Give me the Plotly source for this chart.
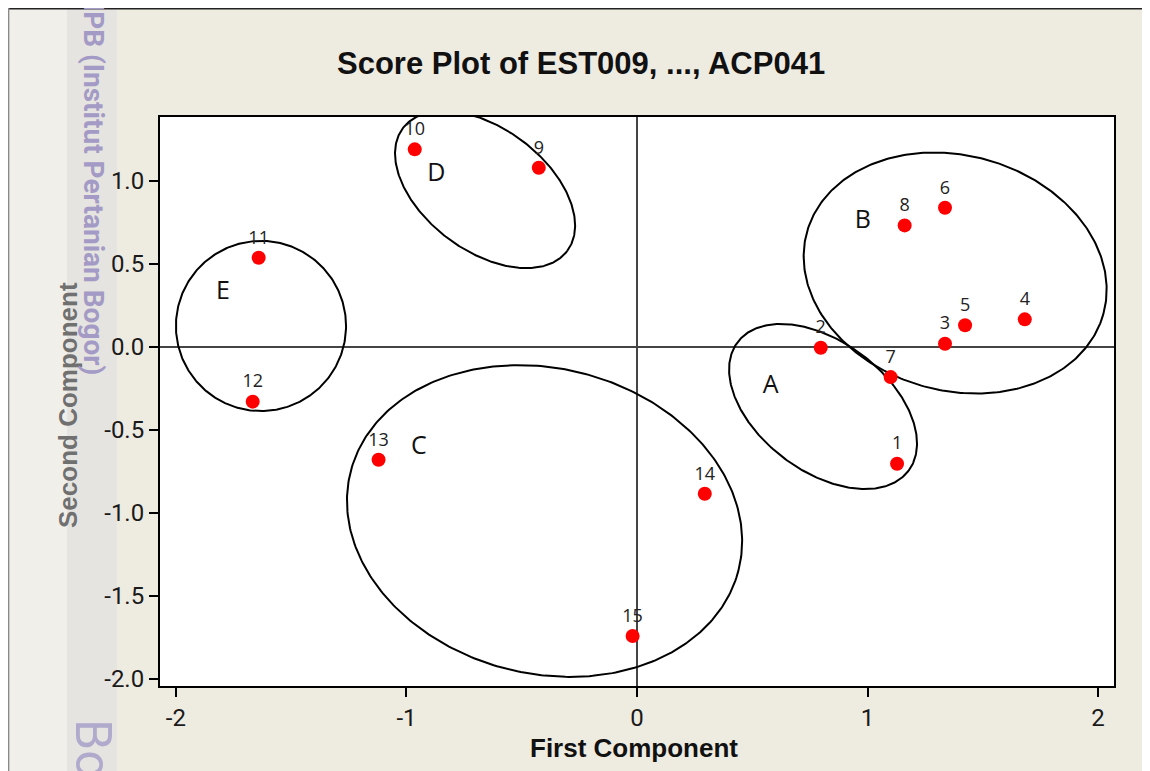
import numpy as np
import plotly.graph_objects as go

# ---- data ----
obs_labels = ["1", "2", "3", "4", "5", "6", "7", "8", "9", "10", "11", "12", "13", "14", "15"]
first_comp = [1.128, 0.797, 1.336, 1.682, 1.423, 1.336, 1.100, 1.161, -0.426, -0.964,
              -1.641, -1.667, -1.121, 0.294, -0.019]
second_comp = [-0.703, -0.004, 0.020, 0.167, 0.131, 0.839, -0.181, 0.733, 1.080, 1.191,
               0.538, -0.329, -0.679, -0.884, -1.741]

group_names = ["A", "B", "C", "D", "E"]
group_label_x = [0.580, 0.980, -0.946, -0.870, -1.796]
group_label_y = [-0.241, 0.755, -0.607, 1.040, 0.327]
# ellipse: centre (x, y), semi-axes (in x-units on screen), rotation (deg, ccw on screen)
ell_cx = [0.807, 1.380, -0.401, -0.659, -1.631]
ell_cy = [-0.358, 0.446, -1.048, 0.949, 0.127]
ell_a = [0.464, 0.667, 0.868, 0.445, 0.369]
ell_b = [0.281, 0.510, 0.662, 0.266, 0.369]
ell_rot = [-36.9, -15.4, -14.2, -36.7, 0.0]

x_ticks = [-2, -1, 0, 1, 2]
x_ticktext = ["-2", "-1", "0", "1", "2"]
y_ticks = [-2.0, -1.5, -1.0, -0.5, 0.0, 0.5, 1.0]
y_ticktext = ["-2.0", "-1.5", "-1.0", "-0.5", "0.0", "0.5", "1.0"]
x_range = [-2.069, 2.069]
y_range = [-2.042, 1.386]

W, H = 1142, 763
OFF = 8  # page body margin
ML, MT = 160 - OFF, 117 - OFF
PW, PH = 954, 569
MR, MB = W - ML - PW, H - MT - PH
SX = PW / (x_range[1] - x_range[0])
SY = PH / (y_range[1] - y_range[0])

BG = "#EEEBE1"

fig = go.Figure()

# ellipses
t = np.linspace(0, 2 * np.pi, 361)
for cx, cy, a, b, r in zip(ell_cx, ell_cy, ell_a, ell_b, ell_rot):
    phi = np.deg2rad(r)
    u, v = a * np.cos(t), b * np.sin(t)
    dx = u * np.cos(phi) - v * np.sin(phi)
    dy = u * np.sin(phi) + v * np.cos(phi)
    fig.add_trace(go.Scatter(x=cx + dx, y=cy + dy * SX / SY, mode="lines",
                             line=dict(color="black", width=2),
                             hoverinfo="skip", showlegend=False))

# points
fig.add_trace(go.Scatter(x=first_comp, y=second_comp, mode="markers+text",
                         text=obs_labels, textposition="top center",
                         textfont=dict(family="Open Sans", size=18, color="#222"),
                         marker=dict(color="#FF0000", size=14),
                         cliponaxis=False, showlegend=False))

# group letters
fig.add_trace(go.Scatter(x=group_label_x, y=group_label_y, mode="text",
                         text=group_names, textposition="middle center",
                         textfont=dict(family="Open Sans", size=25, color="#111"),
                         showlegend=False, hoverinfo="skip"))


def px(xs):
    """screen x pixel -> paper fraction"""
    return (xs - OFF - ML) / PW


def py(ys):
    """screen y pixel -> paper fraction"""
    return (H - MB - (ys - OFF)) / PH


shapes = [
    dict(type="rect", xref="paper", yref="paper", x0=px(6), x1=px(67), y0=py(790), y1=py(6),
         fillcolor="#F1EFEA", line=dict(width=0), layer="below"),
    dict(type="rect", xref="paper", yref="paper", x0=px(67), x1=px(117), y0=py(790), y1=py(6),
         fillcolor="#E6E4E0", line=dict(width=0), layer="below"),
    dict(type="line", xref="paper", yref="paper", x0=px(8), x1=px(1170), y0=py(8.6), y1=py(8.6),
         line=dict(color="#222", width=2)),
    dict(type="line", xref="paper", yref="paper", x0=px(8.6), x1=px(8.6), y0=py(8), y1=py(790),
         line=dict(color="#8A8A8A", width=1.5)),
]

annotations = [
    dict(text="<b>Score Plot of EST009, ..., ACP041</b>", xref="paper", yref="paper",
         x=px(580.5), y=py(64), xanchor="center", yanchor="middle", showarrow=False,
         font=dict(family="Liberation Sans", size=31, color="#111")),
    dict(text="<b>First Component</b>", xref="paper", yref="paper",
         x=px(634), y=py(748), xanchor="center", yanchor="middle", showarrow=False,
         font=dict(family="Liberation Sans", size=26, color="#111")),
    dict(text="<b>Second Component</b>", xref="paper", yref="paper", textangle=-90,
         x=px(68), y=py(405), xanchor="center", yanchor="middle", showarrow=False,
         font=dict(family="Liberation Sans", size=26, color="#707070")),
    dict(text="<b>IPB (Institut Pertanian Bogor)</b>", xref="paper", yref="paper", textangle=90,
         x=px(94), y=py(377), xanchor="center", yanchor="bottom", showarrow=False,
         font=dict(family="Roboto", size=28, color="#A39BC6")),
    dict(text="Bo", xref="paper", yref="paper", textangle=90,
         x=px(93), y=py(717), xanchor="center", yanchor="top", showarrow=False,
         font=dict(family="Roboto", size=50, color="#B0AACC")),
]

fig.update_layout(
    width=W, height=H,
    margin=dict(l=ML, r=MR, t=MT, b=MB, pad=0),
    paper_bgcolor=BG, plot_bgcolor="white",
    shapes=shapes, annotations=annotations,
    showlegend=False,
)
fig.update_xaxes(range=x_range, tickmode="array", tickvals=x_ticks, ticktext=x_ticktext,
                 showgrid=False, zeroline=True, zerolinecolor="#444", zerolinewidth=1.5,
                 showline=True, linecolor="black", linewidth=2, mirror=True,
                 ticks="outside", ticklen=9, tickwidth=2, tickcolor="black",
                 tickfont=dict(family="Roboto", size=24, color="#1A1A1A"))
fig.update_yaxes(range=y_range, tickmode="array", tickvals=y_ticks, ticktext=y_ticktext,
                 showgrid=False, zeroline=True, zerolinecolor="#444", zerolinewidth=1.5,
                 showline=True, linecolor="black", linewidth=2, mirror=True,
                 ticks="outside", ticklen=9, tickwidth=2, tickcolor="black",
                 tickfont=dict(family="Roboto", size=24, color="#1A1A1A"))

fig.write_html("out.html")
